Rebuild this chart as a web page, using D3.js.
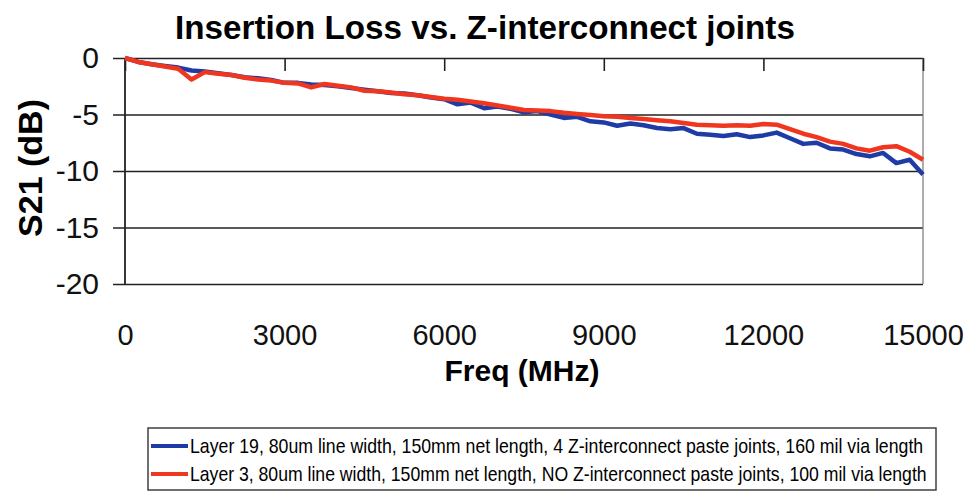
<!DOCTYPE html>
<html lang="en">
<head>
	<meta charset="UTF-8">
	<title>Insertion Loss vs. Z-interconnect joints</title>
	<script src="https://cdn.jsdelivr.net/npm/d3@7/dist/d3.min.js"></script>
	<style>
		html,body{
			margin:0;
			padding:0;
			background:#fff;
		}
		svg{
			display:block;
			font-family:"Liberation Sans",Arial,sans-serif;
		}
		.grid line{
			stroke:#222;
			stroke-width:1.6;
		}
		.grid path{
			display:none;
		}
		.tick text{
			fill:#111;
		}
	</style>
</head>
<body>
	<svg id="svg" width="971" height="493"></svg>
	<script>
		// frequency points (MHz), one every 250
		var freqs = d3.range(0,15001,250);
		// S21 (dB), layer 19 with 4 paste joints
		var layer19 = [0,-0.35,-0.55,-0.7,-0.85,-1.1,-1.2,-1.35,-1.5,-1.7,
			-1.8,-1.95,-2.2,-2.2,-2.35,-2.4,-2.5,-2.65,-2.8,-2.95,
			-3.1,-3.15,-3.3,-3.5,-3.65,-4.1,-3.95,-4.45,-4.3,-4.5,
			-4.8,-4.7,-5.0,-5.3,-5.2,-5.6,-5.7,-6.0,-5.8,-5.95,
			-6.2,-6.3,-6.2,-6.7,-6.8,-6.9,-6.75,-7.0,-6.85,-6.6,
			-7.1,-7.6,-7.5,-8.0,-8.1,-8.5,-8.7,-8.4,-9.3,-9.0,-10.3];
		// S21 (dB), layer 3 with no paste joints
		var layer3 = [0,-0.35,-0.55,-0.75,-0.95,-1.9,-1.25,-1.4,-1.5,-1.75,
			-1.9,-2.0,-2.2,-2.25,-2.6,-2.3,-2.45,-2.6,-2.9,-2.95,
			-3.05,-3.2,-3.3,-3.45,-3.6,-3.7,-3.85,-4.0,-4.2,-4.4,
			-4.6,-4.65,-4.7,-4.85,-4.95,-5.05,-5.15,-5.2,-5.3,-5.4,
			-5.5,-5.6,-5.75,-5.9,-5.95,-6.0,-5.95,-6.0,-5.85,-5.9,
			-6.3,-6.7,-7.0,-7.4,-7.6,-8.0,-8.2,-7.9,-7.8,-8.3,-9.0];
		var xTicks = [0,3000,6000,9000,12000,15000];
		var yTicks = [0,-5,-10,-15,-20];
		var seriesNames = [
			"Layer 19, 80um line width, 150mm net length, 4 Z-interconnect paste joints, 160 mil via length",
			"Layer 3, 80um line width, 150mm net length, NO Z-interconnect paste joints, 100 mil via length"
		];
		var colors = ["#1f3ca6","#f0361f"];

		var svg = d3.select("#svg");
		var m = {left:125,top:58,right:48,bottom:209},
			w = 971-m.left-m.right,
			h = 493-m.top-m.bottom;

		var x = d3.scaleLinear().domain([0,15000]).range([0,w]);
		var y = d3.scaleLinear().domain([-20,0]).range([h,0]);

		// squeeze a text horizontally to a given width (narrow fonts in the original)
		function squeeze(sel,width){
			var n = sel.node(), len = n.getComputedTextLength();
			var ax = +sel.attr("x")||0;
			if(len>width){
				var s = width/len;
				sel.attr("transform",(sel.attr("transform")||"")+" translate("+ax+",0) scale("+s+",1) translate("+(-ax)+",0)");
			}
		}

		var g = svg.append("g").attr("transform","translate("+m.left+","+m.top+")");

		// horizontal gridlines + left ticks + labels
		g.append("g").attr("class","grid")
			.attr("transform","translate(-12,0)")
			.call(d3.axisLeft(y).tickValues(yTicks).tickSize(-(w+12)).tickPadding(14)
				.tickFormat((d)=>String(d)))
			.selectAll("text").style("font-size","30px");

		// plot frame
		g.append("line").attr("x1",0).attr("x2",0).attr("y1",0).attr("y2",h)
			.attr("stroke","#222").attr("stroke-width",1.8);
		g.append("line").attr("x1",w).attr("x2",w).attr("y1",0).attr("y2",h)
			.attr("stroke","#777").attr("stroke-width",1.2);

		// top ticks pointing into the plot
		g.append("g").attr("class","grid")
			.call(d3.axisTop(x).tickValues(xTicks).tickSize(-13).tickFormat(""));

		// bottom labels
		var xa = g.append("g")
			.attr("transform","translate(0,"+h+")")
			.call(d3.axisBottom(x).tickValues(xTicks).tickSize(0).tickPadding(40)
				.tickFormat((d)=>String(d)));
		xa.select(".domain").remove();
		xa.selectAll("text").style("font-size","29px");

		var line = d3.line()
			.x((d,i)=>x(freqs[i]))
			.y((d)=>y(d))
			.curve(d3.curveLinear);

		[layer19,layer3].forEach((s,i)=>{
			g.append("path").datum(s)
				.attr("fill","none")
				.attr("stroke",colors[i])
				.attr("stroke-width",4.5)
				.attr("stroke-linejoin","round")
				.attr("d",line);
		});

		// titles
		var t1 = svg.append("text").attr("x",485).attr("y",39)
			.attr("text-anchor","middle")
			.style("font-size","34px").style("font-weight","bold")
			.text("Insertion Loss vs. Z-interconnect joints");
		squeeze(t1,620);
		var t2 = svg.append("text").attr("x",522).attr("y",381)
			.attr("text-anchor","middle")
			.style("font-size","30px").style("font-weight","bold")
			.text("Freq (MHz)");
		squeeze(t2,180);
		var t3 = svg.append("text").attr("x",0).attr("y",0)
			.attr("text-anchor","middle")
			.style("font-size","34px").style("font-weight","bold")
			.text("S21 (dB)");
		squeeze(t3,149);
		t3.attr("transform","translate(42,168) rotate(-90) "+(t3.attr("transform")||""));

		// legend
		var lg = svg.append("g").attr("transform","translate(148,428)");
		lg.append("rect").attr("width",788).attr("height",62)
			.attr("fill","#fff").attr("stroke","#333").attr("stroke-width",1.4);
		seriesNames.forEach((name,i)=>{
			var yy = 18+i*28;
			lg.append("line").attr("x1",3).attr("x2",40).attr("y1",yy).attr("y2",yy)
				.attr("stroke",colors[i]).attr("stroke-width",4);
			var lt = lg.append("text").attr("x",42).attr("y",yy+7)
				.style("font-family","'Liberation Sans Narrow','Arial Narrow',sans-serif")
				.style("font-size","20px")
				.text(name);
			squeeze(lt,i==0?734:737);
		});
	</script>
</body>
</html>
